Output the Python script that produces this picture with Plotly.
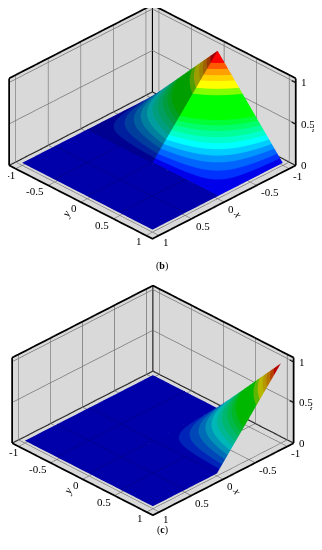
import plotly.graph_objects as go

x_lim = [-1.1, 1.1]
y_lim = [-1.1, 1.1]
z_lim = [0, 1.05]
tick_vals = [-1, -0.5, 0, 0.5, 1]
tick_text = ["-1", "-0.5", "0", "0.5", "1"]
z_tick_vals = [0, 0.5, 1]
z_tick_text = ["0", "0.5", "1"]

# grid of the raised corner: x from -1 to 0, distance from the ridge 0 to 1
x_face = [-1, -0.875, -0.75, -0.625, -0.5, -0.375, -0.25, -0.125, 0]
y_fall = [0, 0.125, 0.25, 0.375, 0.5, 0.625, 0.75, 0.875, 1]
y_rise_b = [-1, -0.875, -0.75, -0.625, -0.5, -0.375, -0.25, -0.125, 0]
z_fall = [
    [0.95, 0.831, 0.713, 0.594, 0.475, 0.356, 0.238, 0.119, 0],
    [0.831, 0.727, 0.623, 0.520, 0.416, 0.312, 0.208, 0.104, 0],
    [0.713, 0.623, 0.534, 0.445, 0.356, 0.267, 0.178, 0.089, 0],
    [0.594, 0.520, 0.445, 0.371, 0.297, 0.223, 0.148, 0.074, 0],
    [0.475, 0.416, 0.356, 0.297, 0.238, 0.178, 0.119, 0.059, 0],
    [0.356, 0.312, 0.267, 0.223, 0.178, 0.134, 0.089, 0.045, 0],
    [0.238, 0.208, 0.178, 0.148, 0.119, 0.089, 0.059, 0.030, 0],
    [0.119, 0.104, 0.089, 0.074, 0.059, 0.045, 0.030, 0.015, 0],
    [0, 0, 0, 0, 0, 0, 0, 0, 0],
]
z_rise = z_fall[::-1]
# the surface sits a little above the box floor
z_base = 0.03

# contour bands
band_edges = [0, 0.04, 0.08, 0.12, 0.16, 0.20, 0.24, 0.28, 0.32, 0.36, 0.40,
              0.59, 0.64, 0.70, 0.75, 0.80, 0.85, 1]
band_colors = [(0, 0, 235), (0, 50, 255), (0, 100, 255), (0, 150, 255),
               (0, 205, 255), (0, 255, 255), (0, 255, 205), (0, 255, 155), (0, 255, 105),
               (0, 255, 55), (0, 255, 0), (130, 255, 0), (255, 255, 0), (255, 210, 0),
               (255, 160, 0), (255, 90, 0), (255, 0, 0)]
floor_color = "rgb(0,0,170)"
TEXT = dict(family="Liberation Serif", size=11, color="black")


def stepped(shade):
    scale = []
    for i, c in enumerate(band_colors):
        r, g, b = [int(v * shade) for v in c]
        scale.append([band_edges[i], f"rgb({r},{g},{b})"])
        scale.append([band_edges[i + 1], f"rgb({r},{g},{b})"])
    return scale


bright = stepped(1.0)
flat = [[0, floor_color], [1, floor_color]]
flat_light = dict(ambient=1, diffuse=0, specular=0, fresnel=0, roughness=1)


def surf(x, y, z, scale, scene):
    lifted = [[v + z_base for v in row] for row in z]
    return go.Surface(x=x, y=y, z=lifted, surfacecolor=z, colorscale=scale, cmin=0, cmax=1,
                      showscale=False, lighting=flat_light, hoverinfo="skip", scene=scene)


def box_edges(scene):
    x0, x1 = x_lim
    y0, y1 = y_lim
    z0, z1 = z_lim
    runs = [
        ([x1, x0, x0], [y0, y0, y1], [z1, z1, z1]),
        ([x1, x1], [y0, y0], [z0, z1]),
        ([x0, x0], [y1, y1], [z0, z1]),
        ([x0, x0], [y0, y0], [z0, z1]),
        ([x1, x1, x0], [y0, y1, y1], [z0, z0, z0]),
        ([x1, x0, x0], [y0, y0, y1], [z0, z0, z0]),
    ]
    # z ticks sit on the right-hand corner edge
    for t in z_tick_vals:
        runs.append(([x0, x0], [y1, y1 - 0.06], [t, t]))
    return [go.Scatter3d(x=a, y=b, z=c, mode="lines", line=dict(color="black", width=3.5),
                         hoverinfo="skip", showlegend=False, scene=scene) for a, b, c in runs]


def floor_grid(scene, x_far):
    # faint grid seen through the flat part of the surface
    lift = z_base + 0.004
    traces = []
    for t in tick_vals[1:4]:
        if t >= 0:
            a, b = [t, t], [-1, 1]
            traces.append((a, b))
        far = x_far if t < 0 else 0
        traces.append(([far, 1], [t, t]))
    return [go.Scatter3d(x=a, y=b, z=[lift, lift], mode="lines",
                         line=dict(color="rgb(0,0,125)", width=1),
                         hoverinfo="skip", showlegend=False, scene=scene) for a, b in traces]


def axis(vals, text, rng):
    return dict(range=rng, tickvals=vals, ticktext=text, title=dict(text=""),
                showticklabels=False, showbackground=True, backgroundcolor="rgb(217,217,217)",
                gridcolor="rgb(115,115,115)", gridwidth=1.5, showline=False, zeroline=False,
                ticks="outside", ticklen=1, tickcolor="black", tickwidth=2,
                showspikes=False)


def label(x, y, z, text, angle, size, dx, dy):
    return dict(x=x, y=y, z=z, text=f"<i>{text}</i>", showarrow=False, textangle=angle,
                xshift=dx, yshift=dy,
                font=dict(family="Liberation Serif", size=size, color="black"))


def tick_labels():
    # labels hug the box closer than plotly's own, and z goes on the right-hand edge
    notes = []
    for t, s in zip(tick_vals, tick_text):
        notes.append(dict(x=x_lim[1], y=t, z=0, text=s, showarrow=False, xanchor="right",
                          xshift=1 if t == -1 else -2, yshift=-6, font=TEXT))
        notes.append(dict(x=t, y=y_lim[1], z=0, text=s, showarrow=False, xanchor="left",
                          xshift=2, yshift=-7, font=TEXT))
    for t, s in zip(z_tick_vals, z_tick_text):
        notes.append(dict(x=x_lim[0], y=y_lim[1], z=t, text=s, showarrow=False, xanchor="left",
                          xshift=3, font=TEXT))
    return notes


def scene_layout(domain_y, center, eye, zoom):
    z_axis = axis(z_tick_vals, z_tick_text, z_lim)
    z_axis.update(ticks="")
    return dict(
        domain=dict(x=[0, 1], y=domain_y),
        xaxis=axis(tick_vals, tick_text, x_lim),
        yaxis=axis(tick_vals, tick_text, y_lim),
        zaxis=z_axis,
        aspectmode="manual",
        aspectratio=dict(x=1.53 * zoom, y=1.53 * zoom, z=0.765 * zoom),
        camera=dict(eye=eye, up=dict(x=0, y=0, z=1), center=center,
                    projection=dict(type="orthographic")),
        annotations=tick_labels() + [
            label(1.1, 0, 0, "y", -60, 11, -15, -12),
            label(0, 1.1, 0, "x", 60, 11, 14, -12),
            label(-1.1, 1.1, 0.5, "z", 0, 6, 17, -6),
        ],
    )


fig = go.Figure()

# (b): ridge along y = 0
fig.add_trace(surf([0, 1], [-1, 1], [[0, 0], [0, 0]], flat, "scene"))
fig.add_trace(surf(x_face, y_fall, z_fall, bright, "scene"))
fig.add_trace(surf(x_face, y_rise_b, z_rise, stepped(0.62), "scene"))
fig.add_traces(floor_grid("scene", 0))
fig.add_traces(box_edges("scene"))

# (c): raised corner at y = 1, flat for y < 0
fig.add_trace(surf([-1, 1], [-1, 0], [[0, 0], [0, 0]], flat, "scene2"))
fig.add_trace(surf([0, 1], [0, 1], [[0, 0], [0, 0]], flat, "scene2"))
fig.add_trace(surf(x_face, y_fall, z_rise, stepped(0.72), "scene2"))
fig.add_traces(floor_grid("scene2", -1))
fig.add_traces(box_edges("scene2"))

H = 542
fig.update_layout(
    width=314, height=H, margin=dict(l=0, r=0, t=0, b=0),
    paper_bgcolor="white", showlegend=False,
    scene=scene_layout([1 - 265 / H, 1],
                       dict(x=-0.016, y=0.118, z=-0.121),
                       dict(x=1.198, y=1.332, z=0.903), 1),
    scene2=scene_layout([0, 265 / H],
                        dict(x=-0.018, y=0.111, z=-0.111),
                        dict(x=1.196, y=1.325, z=0.913), 0.982),
    annotations=[
        dict(x=154 / 314, y=1 - 258 / H, xref="paper", yref="paper", showarrow=False,
             text="(<b>b</b>)", font=dict(family="Liberation Serif", size=10, color="black")),
        dict(x=154 / 314, y=1 - 530 / H, xref="paper", yref="paper", showarrow=False,
             text="(<b>c</b>)", font=dict(family="Liberation Serif", size=10, color="black")),
    ],
)

fig.write_html("out.html")
